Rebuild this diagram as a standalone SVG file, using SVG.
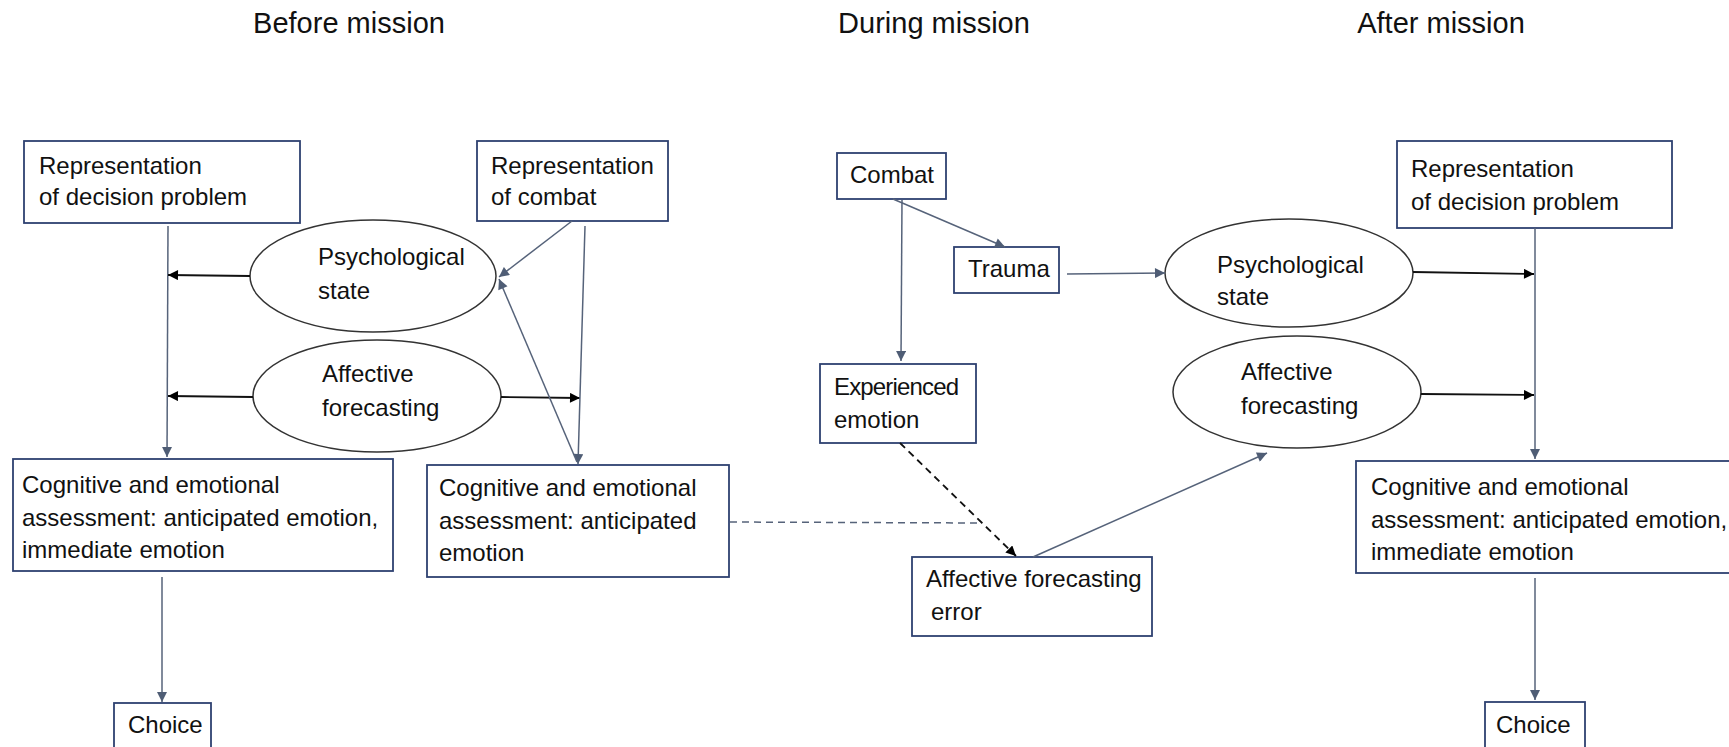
<svg xmlns="http://www.w3.org/2000/svg" width="1729" height="747" viewBox="0 0 1729 747">
<defs>
<marker id="ab" viewBox="0 0 10 10" refX="10" refY="5" markerWidth="11" markerHeight="10" markerUnits="userSpaceOnUse" orient="auto"><path d="M0,0 L10,5 L0,10 z" fill="#4f5d75"/></marker>
<marker id="ak" viewBox="0 0 10 10" refX="10" refY="5" markerWidth="11" markerHeight="10" markerUnits="userSpaceOnUse" orient="auto"><path d="M0,0 L10,5 L0,10 z" fill="#000"/></marker>
</defs>
<style>
.box{fill:#fff;stroke:#2e4170;stroke-width:1.8}
.ell{fill:#fff;stroke:#333;stroke-width:1.5}
.t{font-family:"Liberation Sans",Arial,sans-serif;font-size:24px;fill:#111}
.h{font-size:29px}
.c{stroke:#56637a;stroke-width:1.5;fill:none}
.k{stroke:#111;stroke-width:1.8;fill:none}
.d{stroke-dasharray:7 5}
</style>
<rect width="1729" height="747" fill="#fff"/>
<g id="titles">
<text class="t h" x="349" y="33" text-anchor="middle">Before mission</text>
<text class="t h" x="934" y="33" text-anchor="middle">During mission</text>
<text class="t h" x="1441" y="33" text-anchor="middle">After mission</text>
</g>
<g id="rep-decision-left"><rect class="box" x="24" y="141" width="276" height="82"/><text class="t" x="39" y="174">Representation</text><text class="t" x="39" y="205">of decision problem</text></g>
<g id="rep-combat"><rect class="box" x="477" y="141" width="191" height="80"/><text class="t" x="491" y="174">Representation</text><text class="t" x="491" y="205">of combat</text></g>
<g id="psych-left"><ellipse class="ell" cx="373" cy="276" rx="123" ry="56"/><text class="t" x="318" y="265">Psychological</text><text class="t" x="318" y="299">state</text></g>
<g id="affective-left"><ellipse class="ell" cx="377" cy="396" rx="124" ry="56"/><text class="t" x="322" y="382">Affective</text><text class="t" x="322" y="416">forecasting</text></g>
<g id="cog-left"><rect class="box" x="13" y="459" width="380" height="112"/><text class="t" x="22" y="493">Cognitive and emotional</text><text class="t" x="22" y="526">assessment: anticipated emotion,</text><text class="t" x="22" y="558">immediate emotion</text></g>
<g id="cog-mid"><rect class="box" x="427" y="465" width="302" height="112"/><text class="t" x="439" y="496">Cognitive and emotional</text><text class="t" x="439" y="529">assessment: anticipated</text><text class="t" x="439" y="561">emotion</text></g>
<g id="choice-left"><rect class="box" x="114" y="703" width="97" height="50"/><text class="t" x="128" y="733">Choice</text></g>
<g id="combat"><rect class="box" x="837" y="153" width="109" height="46"/><text class="t" x="850" y="183">Combat</text></g>
<g id="trauma"><rect class="box" x="954" y="247" width="105" height="46"/><text class="t" x="968" y="277">Trauma</text></g>
<g id="experienced"><rect class="box" x="820" y="364" width="156" height="79"/><text class="t" x="834" y="395" textLength="125">Experienced</text><text class="t" x="834" y="428">emotion</text></g>
<g id="afe"><rect class="box" x="912" y="557" width="240" height="79"/><text class="t" x="926" y="587">Affective forecasting</text><text class="t" x="931" y="620">error</text></g>
<g id="psych-right"><ellipse class="ell" cx="1289" cy="273" rx="124" ry="54"/><text class="t" x="1217" y="273">Psychological</text><text class="t" x="1217" y="305">state</text></g>
<g id="affective-right"><ellipse class="ell" cx="1297" cy="392" rx="124" ry="56"/><text class="t" x="1241" y="380">Affective</text><text class="t" x="1241" y="414">forecasting</text></g>
<g id="rep-decision-right"><rect class="box" x="1397" y="141" width="275" height="87"/><text class="t" x="1411" y="177">Representation</text><text class="t" x="1411" y="210">of decision problem</text></g>
<g id="cog-right"><rect class="box" x="1356" y="461" width="380" height="112"/><text class="t" x="1371" y="495">Cognitive and emotional</text><text class="t" x="1371" y="528">assessment: anticipated emotion,</text><text class="t" x="1371" y="560">immediate emotion</text></g>
<g id="choice-right"><rect class="box" x="1485" y="702" width="100" height="50"/><text class="t" x="1496" y="733">Choice</text></g>
<g id="connectors">
<line class="c" x1="168" y1="226" x2="167" y2="457" marker-end="url(#ab)"/>
<line class="k" x1="250" y1="276" x2="168" y2="275" marker-end="url(#ak)"/>
<line class="k" x1="253" y1="397" x2="168" y2="396" marker-end="url(#ak)"/>
<line class="k" x1="501" y1="397" x2="580" y2="398" marker-end="url(#ak)"/>
<line class="c" x1="572" y1="221" x2="499" y2="277" marker-end="url(#ab)"/>
<line class="c" x1="585" y1="226" x2="578" y2="464" marker-end="url(#ab)"/>
<line class="c" x1="577" y1="462" x2="499" y2="279" marker-end="url(#ab)"/>
<line class="c" x1="162" y1="577" x2="162" y2="702" marker-end="url(#ab)"/>
<line class="c" x1="902" y1="200" x2="901" y2="361" marker-end="url(#ab)"/>
<line class="c" x1="893" y1="199" x2="1005" y2="247" marker-end="url(#ab)"/>
<line class="c" x1="1067" y1="274" x2="1165" y2="273" marker-end="url(#ab)"/>
<line class="k d" x1="900" y1="443" x2="1016" y2="556" stroke-width="1.4" marker-end="url(#ak)"/>
<line class="c d" x1="730" y1="522" x2="977" y2="523" stroke-width="1.6"/>
<line class="c" x1="1033" y1="557" x2="1267" y2="453" marker-end="url(#ab)"/>
<line class="c" x1="1535" y1="228" x2="1535" y2="459" marker-end="url(#ab)"/>
<line class="k" x1="1413" y1="272" x2="1534" y2="274" marker-end="url(#ak)"/>
<line class="k" x1="1421" y1="394" x2="1534" y2="395" marker-end="url(#ak)"/>
<line class="c" x1="1535" y1="578" x2="1535" y2="700" marker-end="url(#ab)"/>
</g>
</svg>
